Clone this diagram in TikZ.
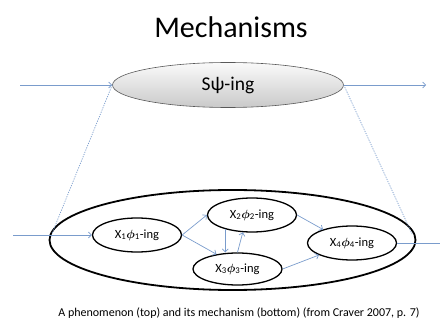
\documentclass[tikz,border=0pt]{standalone}
\usepackage{fontspec}
\setmainfont{Carlito}
\usetikzlibrary{shapes.geometric,arrows.meta}
\definecolor{flowblue}{RGB}{122,156,204}
\newcommand{\xphi}[1]{X\textsubscript{#1}{\boldmath$\phi$}\textsubscript{#1}-ing}
\tikzset{
	>={Straight Barb[length=3pt,width=6pt]},
	phase/.style={draw, ellipse, line width=1.3pt, inner sep=0pt, minimum width=89pt, minimum height=34pt, font=\fontsize{12.5}{14}\selectfont},
	flow/.style={->, draw=flowblue, line width=0.7pt},
	link/.style={draw=flowblue, line width=0.7pt, dash pattern=on 1.2pt off 1.2pt}
}

\begin{document}
\begin{tikzpicture}[x=1pt,y=-1pt]
	\useasboundingbox (0,0) rectangle (440,329);
	\node (title) at (231,27) {\fontsize{30}{36}\selectfont Mechanisms};
	\node[ellipse, draw=black!65, line width=0.6pt, top color=gray!4, bottom color=gray!42, inner sep=0pt, minimum width=231pt, minimum height=45pt, font=\fontsize{19.5}{23}\selectfont] (top) at (228,85) {Sψ-ing};
	\coordinate (pin) at (20,85);
	\coordinate (pout) at (426,85);
	\draw[flow] (pin) -- (top.west);
	\draw[flow] (top.east) -- (pout);

	\draw[line width=1.8pt] (232.5,240) ellipse [x radius=183, y radius=50];
	\coordinate (mleft) at (52,233.5);
	\coordinate (mright) at (412,234);
	\draw[link] (top.west) -- (mleft);
	\draw[link] (top.east) -- (mright);

	\node[phase] (X1) at (137,235) {\xphi{1}};
	\node[phase] (X2) at (252,215) {\xphi{2}};
	\node[phase, minimum height=32pt] (X3) at (237.5,269) {\xphi{3}};
	\node[phase] (X4) at (352,243) {\xphi{4}};
	\coordinate (in) at (13,235);
	\coordinate (out) at (440,243);
	\draw[flow] (in) -- (X1.west);
	\draw[flow] (X1.east) -- (X2.west);
	\draw[flow] (X1.east) -- (X3.145);
	\draw[flow] (X2.208) -- (X2.208 |- X3.north);
	\draw[flow] (X3.north) -- (X2.242);
	\draw[flow] (X2.east) -- (X4.155);
	\draw[flow] (X3.east) -- (X4.200);
	\draw[draw=flowblue, line width=1pt] (X4.east) -- (out);

	\node (caption) at (239,313) {\fontsize{12}{14}\selectfont A phenomenon (top) and its mechanism (bottom) (from Craver 2007, p. 7)};
\end{tikzpicture}
\end{document}
